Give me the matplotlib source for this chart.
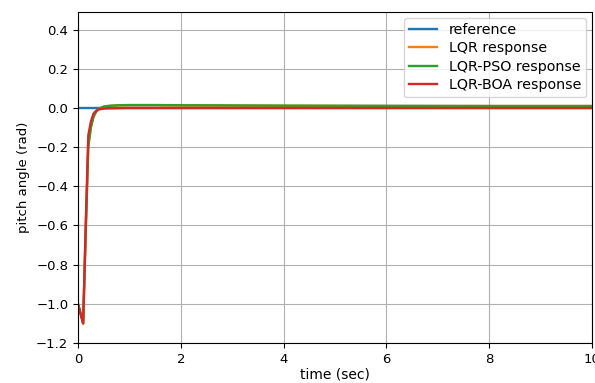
import matplotlib
matplotlib.use('Agg')
import matplotlib.pyplot as plt

t = [0, 0.05, 0.1, 0.15, 0.2, 0.25, 0.3, 0.35, 0.4, 0.5, 0.6, 0.8, 1.0, 1.5, 2, 3, 4, 6, 8, 10]
ref = [0.0] * len(t)
lqr = [-1.0, -1.05, -1.1, -0.62, -0.19, -0.1, -0.045, -0.02, -0.005, 0.006, 0.01, 0.013, 0.014, 0.014, 0.013, 0.012, 0.011, 0.01, 0.01, 0.01]
pso = [-1.0, -1.05, -1.1, -0.64, -0.2, -0.1, -0.045, -0.02, -0.004, 0.007, 0.011, 0.014, 0.015, 0.015, 0.014, 0.013, 0.012, 0.011, 0.01, 0.01]
boa = [-1.0, -1.05, -1.1, -0.6, -0.14, -0.07, -0.03, -0.015, -0.008, -0.003, -0.002, -0.001, 0.0, 0.0, 0.0, 0.0, 0.0, 0.0, 0.0, 0.0]

fig = plt.figure(figsize=(5.95, 3.83), dpi=100)
ax = fig.add_axes([78/595, 1-343/383, (592-78)/595, (343-12)/383])
ax.plot(t, ref, color='#1f77b4', lw=1.7, label='reference')
ax.plot(t, lqr, color='#ff7f0e', lw=1.7, label='LQR response')
ax.plot(t, pso, color='#2ca02c', lw=1.7, label='LQR-PSO response')
ax.plot(t, boa, color='#d62728', lw=1.7, label='LQR-BOA response')
ax.set_xlim(0, 10)
ax.set_ylim(-1.2, 0.49)
ax.set_yticks([-1.2, -1.0, -0.8, -0.6, -0.4, -0.2, 0.0, 0.2, 0.4])
ax.set_xticks([0, 2, 4, 6, 8, 10])
ax.grid(True)
ax.tick_params(labelsize=9.5)
ax.set_xlabel('time (sec)', fontsize=10, labelpad=1.5)
ax.set_ylabel('pitch angle (rad)', fontsize=9.5)
ax.legend(loc='upper right', fontsize=10.3, labelspacing=0.32, borderaxespad=0.4, borderpad=0.35)
fig.savefig('out.png', dpi=100)
